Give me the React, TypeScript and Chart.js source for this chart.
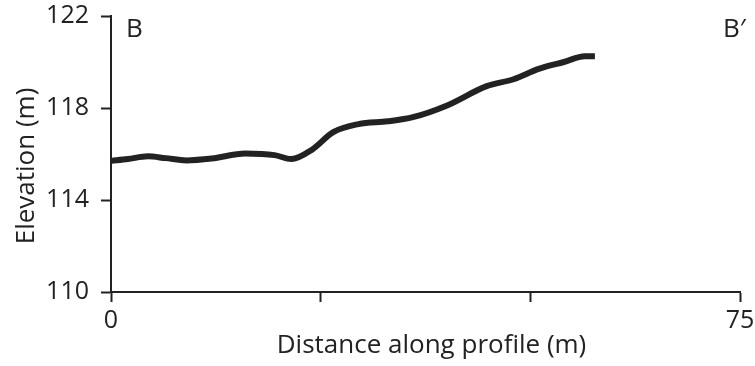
import React, { useEffect, useRef } from 'react';
import { Chart, registerables } from 'chart.js';

Chart.register(...registerables);

const distances = [0, 2, 4.4, 6.5, 9, 12, 16, 19.5, 21.5, 24, 26.5, 29.5, 33, 36, 40, 44.8, 48, 51, 54, 56.5, 57.7];
const elevations = [115.7, 115.78, 115.9, 115.82, 115.72, 115.8, 116.02, 115.95, 115.78, 116.2, 116.95, 117.3, 117.42, 117.6, 118.1, 118.95, 119.25, 119.7, 120.0, 120.25, 120.25];
const yTicks = [110, 114, 118, 122];
const xTicks = [0, 25, 50, 75];
const xTickLabels = ['0', '', '', '75'];
const xTitle = 'Distance along profile (m)';
const yTitle = 'Elevation (m)';
const startLabel = 'B';
const endLabel = 'B\u2032';

const FONT = '"Open Sans", "Noto Sans", sans-serif';
const INK = '#222222';

const textPlugin = {
  id: 'profileTexts',
  afterDraw(chart: any) {
    const { ctx, chartArea } = chart;
    ctx.save();
    ctx.fillStyle = INK;
    ctx.font = `26px ${FONT}`;
    ctx.textBaseline = 'alphabetic';
    ctx.textAlign = 'left';
    ctx.fillText(startLabel, chartArea.left + 15, chartArea.top + 21);
    ctx.fillText(endLabel, chartArea.right - 17, chartArea.top + 21);
    ctx.textAlign = 'center';
    ctx.fillText(xTitle, (chartArea.left + chartArea.right) / 2 + 6, chartArea.bottom + 61);
    ctx.translate(34, (chartArea.top + chartArea.bottom) / 2 + 12);
    ctx.rotate(-Math.PI / 2);
    ctx.fillText(yTitle, 0, 0);
    ctx.restore();
  },
};

export default function App() {
  const ref = useRef<HTMLCanvasElement | null>(null);
  useEffect(() => {
    if (!ref.current) return;
    const chart = new Chart(ref.current, {
      type: 'line',
      data: {
        datasets: [
          {
            data: distances.map((d, i) => ({ x: d, y: elevations[i] })),
            borderColor: INK,
            borderWidth: 6,
            pointRadius: 0,
            tension: 0.4,
            cubicInterpolationMode: 'monotone',
            fill: false,
            borderCapStyle: 'butt',
          },
        ],
      },
      options: {
        animation: false,
        responsive: true,
        maintainAspectRatio: false,
        layout: { padding: { left: 0, right: 15, top: 16, bottom: 0 } },
        plugins: { legend: { display: false }, tooltip: { enabled: false } },
        scales: {
          x: {
            type: 'linear',
            min: 0,
            max: 75,
            afterBuildTicks: (s: any) => {
              s.ticks = xTicks.map((v) => ({ value: v }));
            },
            afterFit: (s: any) => {
              s.height = 74;
              s.paddingLeft = 0;
              s.paddingRight = 0;
            },
            ticks: {
              autoSkip: false,
              maxRotation: 0,
              padding: 4,
              color: INK,
              font: { family: FONT, size: 25 },
              callback: (_v: any, i: number) => xTickLabels[i],
            },
            grid: { drawOnChartArea: false, drawTicks: true, tickLength: 10, tickColor: INK, tickWidth: 2 },
            border: { color: INK, width: 2 },
          },
          y: {
            min: 110,
            max: 122,
            afterBuildTicks: (s: any) => {
              s.ticks = yTicks.map((v) => ({ value: v }));
            },
            afterFit: (s: any) => {
              s.width = 111;
              s.paddingTop = 0;
              s.paddingBottom = 0;
            },
            ticks: {
              padding: 12,
              color: INK,
              font: { family: FONT, size: 25 },
              callback: (v: any) => String(v),
            },
            grid: { drawOnChartArea: false, drawTicks: true, tickLength: 10, tickColor: INK, tickWidth: 2 },
            border: { color: INK, width: 2 },
          },
        },
      },
      plugins: [textPlugin],
    } as any);
    return () => chart.destroy();
  }, []);
  return (
    <div style={{ position: 'fixed', left: 0, top: 0, width: 755, height: 366, background: '#fff' }}>
      <canvas ref={ref} />
    </div>
  );
}
